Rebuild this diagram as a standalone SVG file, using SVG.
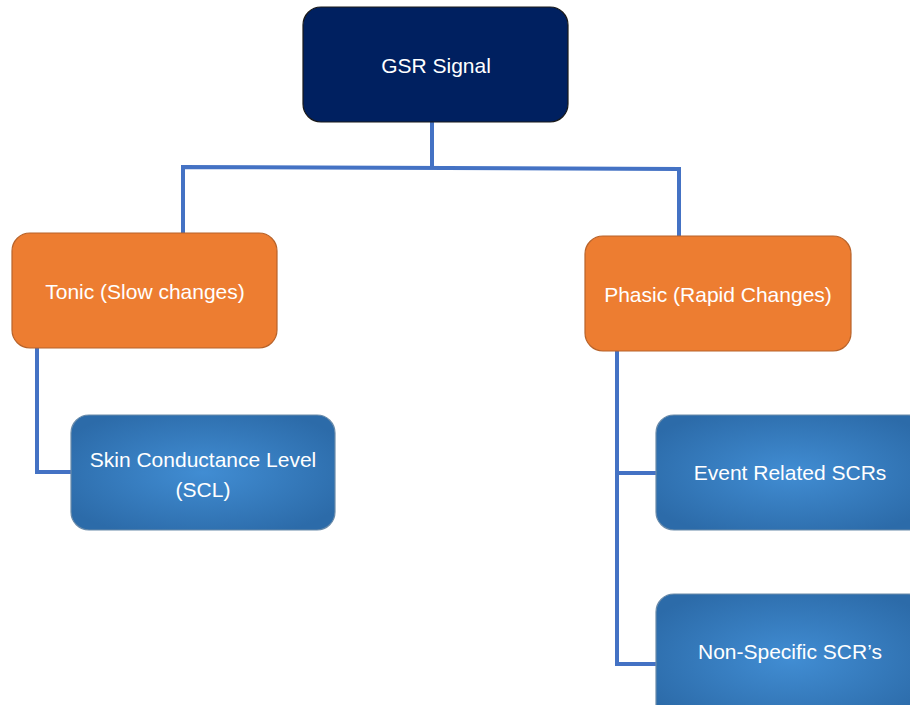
<svg xmlns="http://www.w3.org/2000/svg" width="910" height="705" viewBox="0 0 910 705">
<defs>
<radialGradient id="blueGrad" cx="50%" cy="50%" r="60%">
<stop offset="0" stop-color="#418DD3"/>
<stop offset="1" stop-color="#2C6BA9"/>
</radialGradient>
</defs>
<style>
.lbl{font-family:"Liberation Sans","Open Sans",Arial,sans-serif;font-size:21px;fill:#ffffff;text-anchor:middle}
.root{fill:#002060;stroke:#1a1a1a;stroke-width:1.2}
.orange{fill:#ED7D31;stroke:#B8632A;stroke-width:1.2}
.blue{fill:url(#blueGrad);stroke:#6A8BAA;stroke-width:1.2}
.conn{fill:none;stroke:#4472C4;stroke-width:4;stroke-linejoin:miter}
</style>
<rect width="910" height="705" fill="#ffffff"/>
<g id="connectors">
<path class="conn" d="M432,122 V167"/>
<path class="conn" d="M183,233 V167 L679,169 V238"/>
<path class="conn" d="M37,348 V472 H72"/>
<path class="conn" d="M617,351 V664 H657"/>
<path class="conn" d="M617,473 H657"/>
</g>
<g id="gsr">
<rect class="root" x="303" y="7" width="265" height="115" rx="18"/>
<text class="lbl" x="436" y="73">GSR Signal</text>
</g>
<g id="tonic">
<rect class="orange" x="12" y="233" width="265" height="115" rx="18"/>
<text class="lbl" x="145" y="299">Tonic (Slow changes)</text>
</g>
<g id="phasic">
<rect class="orange" x="585" y="236" width="266" height="115" rx="18"/>
<text class="lbl" x="718" y="302">Phasic (Rapid Changes)</text>
</g>
<g id="scl">
<rect class="blue" x="71" y="415" width="264" height="115" rx="18"/>
<text class="lbl" x="203" y="467">Skin Conductance Level</text>
<text class="lbl" x="203" y="497">(SCL)</text>
</g>
<g id="event">
<rect class="blue" x="656" y="415" width="270" height="115" rx="18"/>
<text class="lbl" x="790" y="480">Event Related SCRs</text>
</g>
<g id="nonspecific">
<rect class="blue" x="656" y="594" width="270" height="130" rx="18"/>
<text class="lbl" x="790" y="659">Non-Specific SCR’s</text>
</g>
</svg>
